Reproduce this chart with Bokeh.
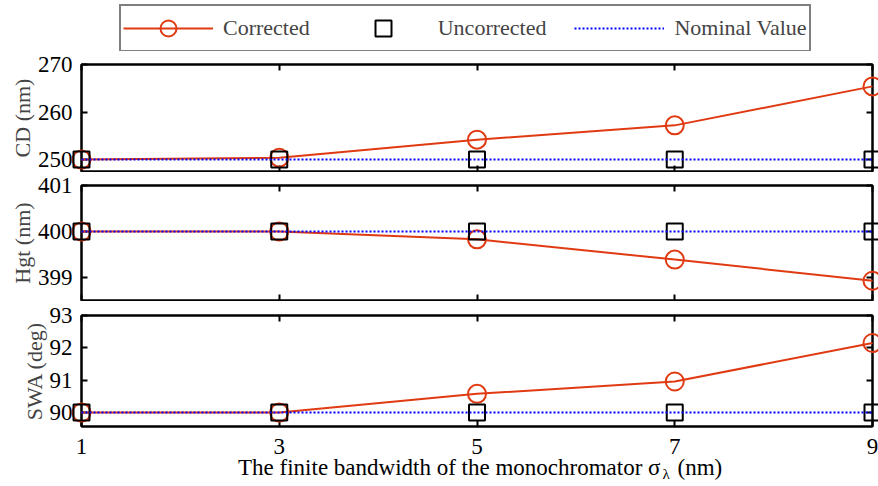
from bokeh.plotting import figure
from bokeh.layouts import column
from bokeh.models import Range1d, LinearAxis, FixedTicker, Legend, LegendItem
from bokeh.core.properties import value
from bokeh.embed import file_html
from bokeh.resources import INLINE

# ---- data ----
bandwidth = [1, 3, 5, 7, 9]
x_ticks = [1, 3, 5, 7, 9]

cd_corrected = [250.0, 250.4, 254.2, 257.2, 265.4]
cd_uncorrected = [250.0, 250.0, 250.0, 250.0, 250.0]
cd_nominal = [250.0, 250.0, 250.0, 250.0, 250.0]
cd_ticks = [250, 260, 270]

hgt_corrected = [400.0, 400.0, 399.83, 399.39, 398.93]
hgt_uncorrected = [400.0, 400.0, 400.0, 400.0, 400.0]
hgt_nominal = [400.0, 400.0, 400.0, 400.0, 400.0]
hgt_ticks = [399, 400, 401]

swa_corrected = [90.0, 90.0, 90.58, 90.96, 92.15]
swa_uncorrected = [90.0, 90.0, 90.0, 90.0, 90.0]
swa_nominal = [90.0, 90.0, 90.0, 90.0, 90.0]
swa_ticks = [90, 91, 92, 93]

series_labels = ["Corrected", "Uncorrected", "Nominal Value"]
x_label_main = "The finite bandwidth of the monochromator σ"
x_label_sub = "λ"
x_label_unit = "(nm)"

FONT = "Liberation Serif"
FS = "22px"
TFS = "23px"
RED = "#e03a12"
BLUE = "#0000ff"
W = 878
LEFT = 81
RIGHT = 6


def style_axis(ax, ticks, labels=True):
    ax.ticker = FixedTicker(ticks=ticks)
    ax.major_tick_in = 6
    ax.major_tick_out = 0
    ax.minor_tick_in = 0
    ax.minor_tick_out = 0
    ax.major_tick_line_color = "black"
    ax.major_tick_line_width = 2
    ax.axis_line_color = "black"
    ax.axis_line_width = 2
    ax.major_label_text_font = FONT
    ax.major_label_text_font_size = TFS
    if labels:
        ax.major_label_text_color = "black"
    else:
        ax.major_label_text_color = None
        ax.major_label_standoff = 0


def add_series(p, corr, unc, nom, level):
    r_line = p.line(bandwidth, corr, line_color=RED, line_width=2, level=level)
    r_circ = p.scatter(bandwidth, corr, marker="circle", size=18, fill_color=None,
                       line_color=RED, line_width=2, level=level)
    r_sq = p.scatter(bandwidth, unc, marker="square", size=16, fill_color=None,
                     line_color="black", line_width=2, level=level)
    r_nom = p.line(bandwidth, nom, line_color=BLUE, line_width=2, line_dash="2 2",
                   level=level)
    return [r_line, r_circ], [r_sq], [r_nom]


def make_panel(ylabel, yr, yticks, corr, unc, nom, height, top, bottom, show_x):
    p = figure(width=W, height=height, output_backend="svg", toolbar_location=None,
               x_range=Range1d(1, 9), y_range=Range1d(*yr),
               min_border_left=LEFT, min_border_right=RIGHT,
               min_border_top=top, min_border_bottom=bottom,
               x_axis_location=None, y_axis_location=None)
    p.grid.visible = False
    p.outline_line_color = "black"
    p.outline_line_width = 2
    p.background_fill_color = "white"
    p.border_fill_color = "white"

    yl = LinearAxis(axis_label=ylabel)
    style_axis(yl, yticks)
    yl.major_label_standoff = 9
    yl.axis_label_text_font = FONT
    yl.axis_label_text_font_size = FS
    yl.axis_label_text_font_style = "normal"
    yl.axis_label_standoff = 0
    p.add_layout(yl, "left")

    yr_ax = LinearAxis()
    style_axis(yr_ax, yticks, labels=False)
    p.add_layout(yr_ax, "right")

    xb = LinearAxis()
    style_axis(xb, x_ticks, labels=show_x)
    if show_x:
        xb.major_label_standoff = 12
    p.add_layout(xb, "below")

    xt = LinearAxis()
    style_axis(xt, x_ticks, labels=False)
    p.add_layout(xt, "above")

    add_series(p, corr, unc, nom, "overlay")
    return p


# ---- legend strip (its renderers lie outside its own ranges, so only the key shows) ----
leg_fig = figure(width=W, height=51, output_backend="svg", toolbar_location=None,
                 x_range=Range1d(-1, 0), y_range=Range1d(-1, 0),
                 min_border_left=LEFT, min_border_right=RIGHT,
                 min_border_top=3, min_border_bottom=0,
                 x_axis_location=None, y_axis_location=None)
leg_fig.grid.visible = False
leg_fig.outline_line_color = None
lc, ls, ln = add_series(leg_fig, cd_corrected, cd_uncorrected, cd_nominal, "glyph")
legend = Legend(items=[
    LegendItem(label=series_labels[0], renderers=lc),
    LegendItem(label=series_labels[1], renderers=ls),
    LegendItem(label=series_labels[2], renderers=ln),
], orientation="horizontal", location=(38, -1), glyph_width=90, glyph_height=40,
    label_standoff=10, spacing=28, padding=2, margin=0,
    label_text_font=FONT, label_text_font_size=FS,
    border_line_color="black", border_line_width=2,
    background_fill_alpha=1.0)
leg_fig.add_layout(legend, "center")

p1 = make_panel("CD (nm)", (247.5, 270), cd_ticks, cd_corrected, cd_uncorrected,
                cd_nominal, 121, 13, 1, False)
p2 = make_panel("Hgt (nm)", (398.5, 401), hgt_ticks, hgt_corrected, hgt_uncorrected,
                hgt_nominal, 129, 13, 1, False)
p3 = make_panel("SWA (deg)", (89.57, 93), swa_ticks, swa_corrected, swa_uncorrected,
                swa_nominal, 185, 14, 60, True)

# x-axis title with a subscript lambda, anchored at the lower-left frame corner
x0 = p3.x_range.start
y0 = p3.y_range.start
common = dict(text_font=value(FONT), text_color="black", text_baseline="middle",
              level="overlay")
p3.text(x=[x0], y=[y0], text=[x_label_main], x_offset=579, y_offset=41,
        text_align="right", text_font_size=value(TFS), **common)
p3.text(x=[x0], y=[y0], text=[x_label_sub], x_offset=581, y_offset=47,
        text_align="left", text_font_size=value("15px"), **common)
p3.text(x=[x0], y=[y0], text=[x_label_unit], x_offset=596, y_offset=41,
        text_align="left", text_font_size=value(TFS), **common)

layout = column(leg_fig, p1, p2, p3, spacing=0)

open("out.html", "w").write(file_html(layout, INLINE))
